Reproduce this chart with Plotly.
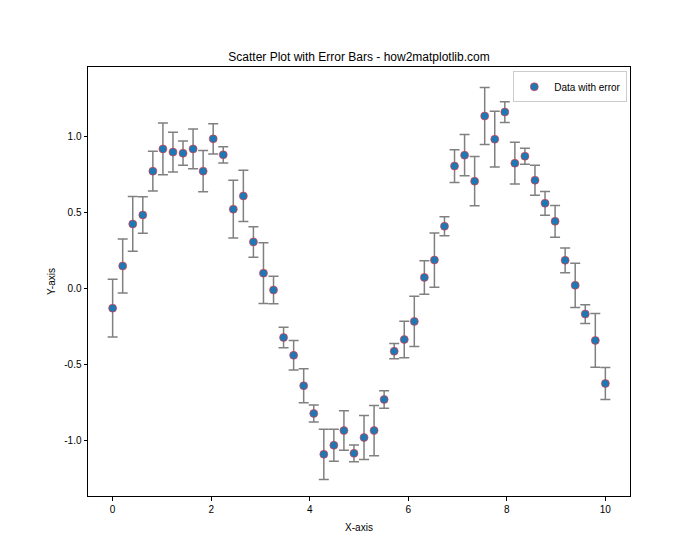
import numpy as np
import plotly.graph_objects as go

x_vals = list(np.linspace(0, 10, 50))
y_vals = [-0.13, 0.147, 0.423, 0.482, 0.77, 0.916, 0.895, 0.888, 0.916, 0.77,
          0.982, 0.877, 0.52, 0.607, 0.305, 0.10, -0.011, -0.323, -0.44, -0.64,
          -0.822, -1.09, -1.031, -0.934, -1.084, -0.98, -0.934, -0.73, -0.413, -0.336,
          -0.217, 0.072, 0.186, 0.408, 0.803, 0.875, 0.704, 1.132, 0.98, 1.158,
          0.822, 0.868, 0.71, 0.559, 0.44, 0.184, 0.02, -0.169, -0.342, -0.625]
y_err = [0.19, 0.177, 0.18, 0.12, 0.13, 0.17, 0.13, 0.08, 0.13, 0.135,
         0.10, 0.053, 0.19, 0.168, 0.10, 0.20, 0.09, 0.068, 0.097, 0.112,
         0.056, 0.165, 0.105, 0.13, 0.055, 0.145, 0.165, 0.058, 0.05, 0.12,
         0.165, 0.11, 0.178, 0.062, 0.108, 0.135, 0.162, 0.187, 0.183, 0.068,
         0.137, 0.052, 0.098, 0.078, 0.104, 0.081, 0.145, 0.062, 0.177, 0.105]
x_ticks = [0, 2, 4, 6, 8, 10]
y_ticks = [-1.0, -0.5, 0.0, 0.5, 1.0]
y_tick_labels = ["-1.0", "-0.5", "0.0", "0.5", "1.0"]

FONT = "Liberation Sans"

fig = go.Figure()
fig.add_trace(go.Scatter(
    x=x_vals, y=y_vals, mode="markers", name="Data with error",
    marker=dict(size=8, color="#1f77b4", line=dict(color="#ff3030", width=0.6)),
    error_y=dict(type="data", array=y_err, visible=True, color="#808080",
                 thickness=1.5, width=5),
))

axis_common = dict(showline=True, linecolor="black", linewidth=1, mirror=True,
                   ticks="outside", ticklen=3.5, tickwidth=0.8, tickcolor="black",
                   showgrid=False, zeroline=False,
                   tickfont=dict(family=FONT, size=10, color="black"))

fig.update_layout(
    width=700, height=560,
    margin=dict(l=88, r=70, t=67, b=64),
    paper_bgcolor="white", plot_bgcolor="white",
    title=dict(text="Scatter Plot with Error Bars - how2matplotlib.com",
               x=0.5, xref="paper", xanchor="center", y=1 - 57 / 560, yanchor="middle",
               font=dict(family=FONT, size=12, color="black")),
    xaxis=dict(range=[-0.5, 10.5], tickvals=x_ticks,
               title=dict(text="X-axis", font=dict(family=FONT, size=10, color="black"), standoff=10),
               **axis_common),
    yaxis=dict(range=[-1.364, 1.454], tickvals=y_ticks, ticktext=y_tick_labels,
               title=dict(text="Y-axis", font=dict(family=FONT, size=10, color="black"), standoff=6),
               **axis_common),
    showlegend=True,
    legend=dict(x=0.995, y=0.99, xanchor="right", yanchor="top",
                bordercolor="#cccccc", borderwidth=1, bgcolor="white",
                tracegroupgap=0, itemwidth=30,
                font=dict(family=FONT, size=10, color="black")),
)

fig.write_html("out.html")
